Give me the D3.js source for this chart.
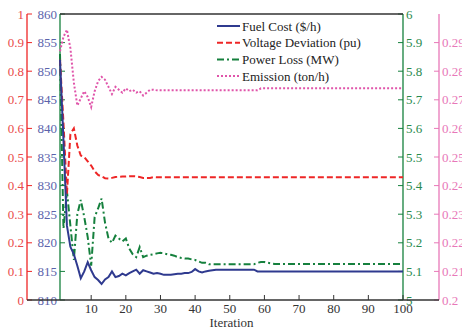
<!DOCTYPE html>
<html><head><meta charset="utf-8">
<script src="https://cdn.jsdelivr.net/npm/d3@7"></script>
<style>body{margin:0;background:#fff}svg{display:block}</style>
</head><body>
<svg id="c" width="462" height="330" font-family="'Liberation Serif', 'Times New Roman', 'DejaVu Serif', serif"></svg>
<script>
const iterations = d3.range(1, 101);
const fuelCost = [852,838,823,819.3,818,816,813.8,815,816.6,815.2,814.0,813.5,812.8,813.6,814.0,815.0,814.0,814.2,814.6,814.3,814.7,815.0,815.3,814.6,815.2,815.0,814.8,814.6,814.7,814.6,814.4,814.4,814.4,814.5,814.6,814.6,814.7,814.7,814.9,815.4,815.0,814.8,815.0,815.1,815.2,815.3,815.3,815.3,815.3,815.3,815.3,815.3,815.3,815.3,815.3,815.3,815.3,815.0,815.0,815.0,815.0,815.0,815.0,815.0,815.0,815.0,815.0,815.0,815.0,815.0,815.0,815.0,815.0,815.0,815.0,815.0,815.0,815.0,815.0,815.0,815.0,815.0,815.0,815.0,815.0,815.0,815.0,815.0,815.0,815.0,815.0,815.0,815.0,815.0,815.0,815.0,815.0,815.0,815.0,815.0];
const voltageDev = [0.84,0.62,0.37,0.58,0.60,0.54,0.505,0.50,0.485,0.47,0.45,0.437,0.432,0.426,0.425,0.427,0.43,0.431,0.432,0.432,0.433,0.433,0.432,0.43,0.427,0.427,0.427,0.43,0.429,0.429,0.429,0.429,0.429,0.429,0.429,0.429,0.429,0.429,0.429,0.429,0.429,0.429,0.429,0.429,0.429,0.429,0.429,0.429,0.429,0.429,0.429,0.429,0.429,0.429,0.429,0.429,0.429,0.429,0.429,0.429,0.429,0.429,0.429,0.429,0.429,0.429,0.429,0.429,0.429,0.429,0.429,0.429,0.429,0.429,0.429,0.429,0.429,0.429,0.429,0.429,0.429,0.429,0.429,0.429,0.429,0.429,0.429,0.429,0.429,0.429,0.429,0.429,0.429,0.429,0.429,0.429,0.429,0.429,0.429,0.429];
const powerLoss = [5.86,5.25,5.38,5.26,5.14,5.30,5.35,5.29,5.22,5.12,5.29,5.32,5.355,5.27,5.215,5.20,5.225,5.215,5.205,5.215,5.18,5.16,5.15,5.185,5.15,5.155,5.158,5.16,5.163,5.165,5.163,5.16,5.158,5.155,5.15,5.147,5.145,5.145,5.142,5.14,5.135,5.13,5.13,5.125,5.125,5.125,5.125,5.125,5.125,5.125,5.125,5.125,5.125,5.125,5.125,5.125,5.125,5.13,5.133,5.133,5.13,5.128,5.126,5.126,5.126,5.126,5.126,5.126,5.126,5.126,5.126,5.126,5.126,5.126,5.126,5.126,5.126,5.126,5.126,5.126,5.126,5.126,5.126,5.126,5.126,5.126,5.126,5.126,5.126,5.126,5.126,5.126,5.126,5.126,5.126,5.126,5.126,5.126,5.126,5.126];
const emission = [0.287,0.292,0.2945,0.288,0.276,0.268,0.2705,0.273,0.271,0.2675,0.273,0.2765,0.278,0.277,0.2745,0.272,0.2745,0.2735,0.2725,0.274,0.273,0.2735,0.2725,0.273,0.2715,0.2725,0.2735,0.2735,0.2733,0.2733,0.2733,0.2733,0.2733,0.2733,0.2733,0.2733,0.2733,0.2733,0.2733,0.2733,0.2733,0.2733,0.2733,0.2733,0.2733,0.2733,0.2733,0.2733,0.2733,0.2733,0.2733,0.2733,0.2733,0.2733,0.2733,0.2733,0.2733,0.2733,0.274,0.274,0.274,0.274,0.274,0.274,0.274,0.274,0.274,0.274,0.274,0.274,0.274,0.274,0.274,0.274,0.274,0.274,0.274,0.274,0.274,0.274,0.274,0.274,0.274,0.274,0.274,0.274,0.274,0.274,0.274,0.274,0.274,0.274,0.274,0.274,0.274,0.274,0.274,0.274,0.274,0.274];
const xTicks = [10,20,30,40,50,60,70,80,90,100];
const redTicks = [0,0.1,0.2,0.3,0.4,0.5,0.6,0.7,0.8,0.9,1];
const blueTicks = [810,815,820,825,830,835,840,845,850,855,860];
const greenTicks = [5,5.1,5.2,5.3,5.4,5.5,5.6,5.7,5.8,5.9,6];
const magentaTicks = [0.2,0.21,0.22,0.23,0.24,0.25,0.26,0.27,0.28,0.29];
const seriesNames = ["Fuel Cost ($/h)","Voltage Deviation (pu)","Power Loss (MW)","Emission (ton/h)"];

(function(){
const svg = d3.select("#c");
const yTop = 14, yBot = 300, L = 60, R = 403, redX = 27, magX = 439;
const x = d3.scaleLinear().domain([1,100]).range([L,R]);
const yBlue = d3.scaleLinear().domain([810,860]).range([yBot,yTop]);
const yRed = d3.scaleLinear().domain([0,1]).range([yBot,yTop]);
const yGreen = d3.scaleLinear().domain([5,6]).range([yBot,yTop]);
const yMag = d3.scaleLinear().domain([0.2,0.3]).range([yBot,yTop]);

const cBlue="#2f3a8f", cBlueT="#5b63ab", cRed="#ee2626", cRedT="#ea4a4a", cGreen="#15803d", cGreenT="#2a8a4e", cMag="#e055aa", cMagT="#e878b8";
const fs = 13;

function vAxis(xPos, scale, ticks, color, tcolor, tickDir, labelSide, fmt){
  const g = svg.append("g");
  g.append("line").attr("x1",xPos).attr("x2",xPos).attr("y1",yTop).attr("y2",yBot).attr("stroke",color).attr("stroke-width",1.3);
  ticks.forEach(t=>{
    g.append("line").attr("x1",xPos).attr("x2",xPos+tickDir*5).attr("y1",scale(t)).attr("y2",scale(t)).attr("stroke",color).attr("stroke-width",1);
    g.append("text").attr("x", labelSide<0 ? xPos-3 : xPos+3).attr("y",scale(t)).attr("dy","0.35em")
      .attr("text-anchor", labelSide<0 ? "end":"start").attr("font-size",fs).attr("fill",tcolor).text(fmt(t));
  });
}
vAxis(redX, yRed, redTicks, cRed, cRedT, 1, -1, d3.format("~g"));
vAxis(L, yBlue, blueTicks, cGreen, cBlueT, 1, -1, d3.format("d"));
vAxis(R, yGreen, greenTicks, cGreen, cGreenT, -1, 1, d3.format("~g"));
vAxis(magX, yMag, magentaTicks, cMagT, cMagT, -1, 1, d3.format("~g"));

svg.append("line").attr("x1",L).attr("x2",R).attr("y1",yTop).attr("y2",yTop).attr("stroke","#333").attr("stroke-width",1.5);
svg.append("line").attr("x1",redX).attr("x2",magX).attr("y1",yBot).attr("y2",yBot).attr("stroke","#333").attr("stroke-width",1.5);

xTicks.forEach(t=>{
  svg.append("line").attr("x1",x(t)).attr("x2",x(t)).attr("y1",yBot).attr("y2",yBot-5).attr("stroke","#333");
  svg.append("text").attr("x",x(t)).attr("y",yBot+13).attr("text-anchor","middle").attr("font-size",fs).attr("fill","#333").text(t);
});
svg.append("text").attr("x",(L+R)/2).attr("y",yBot+27).attr("text-anchor","middle").attr("font-size",fs).attr("fill","#333").text("Iteration");

const series = [
  {vals:fuelCost, y:yBlue, color:cBlue, dash:null},
  {vals:voltageDev, y:yRed, color:cRed, dash:"6,3"},
  {vals:powerLoss, y:yGreen, color:cGreen, dash:"7,3,2,3"},
  {vals:emission, y:yMag, color:cMag, dash:"2,2"}
];
series.slice().reverse().forEach(s=>{
  const line = d3.line().x((d,i)=>x(iterations[i])).y(d=>s.y(d));
  svg.append("path").datum(s.vals).attr("d",line).attr("fill","none").attr("stroke",s.color)
    .attr("stroke-width",2).attr("stroke-dasharray",s.dash);
});

const lg = svg.append("g");
series.forEach((s,i)=>{
  const yy = 26 + i*16.7;
  lg.append("line").attr("x1",217).attr("x2",240).attr("y1",yy).attr("y2",yy).attr("stroke",s.color).attr("stroke-width",2).attr("stroke-dasharray",s.dash);
  lg.append("text").attr("x",242).attr("y",yy).attr("dy","0.35em").attr("font-size",fs).attr("fill","#222").text(seriesNames[i]);
});
})();
</script>
</body></html>
